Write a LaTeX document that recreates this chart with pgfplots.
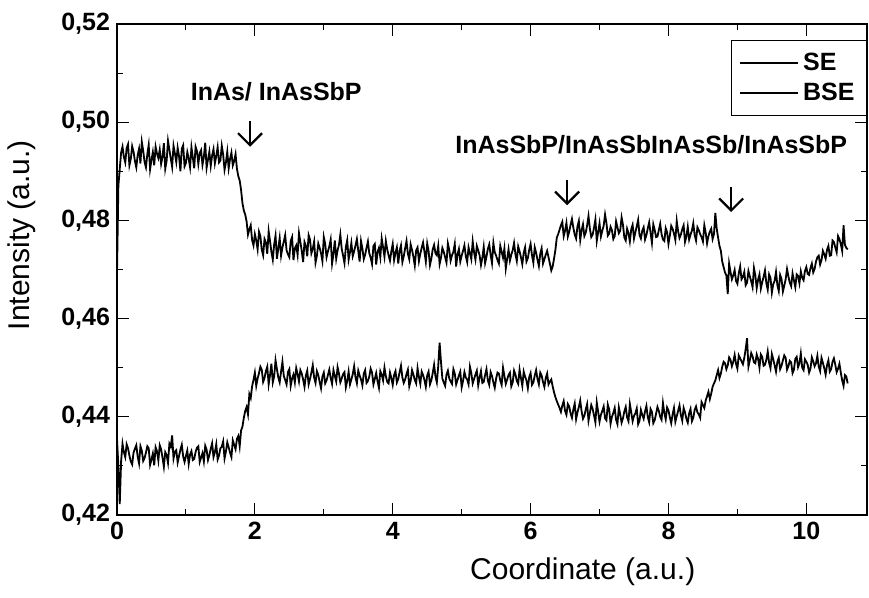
\documentclass[border=0pt]{standalone}
\usepackage{fontspec}
\setmainfont{Liberation Sans}
\usepackage{pgfplots}
\pgfplotsset{compat=1.18}
\usetikzlibrary{arrows.meta}
\begin{document}
\begin{tikzpicture}
\begin{axis}[
  scale only axis,
  width=375pt, height=245.5pt,
  xmin=0, xmax=10.88, ymin=0.42, ymax=0.52,
  xtick={0,2,4,6,8,10}, ytick={0.42,0.44,0.46,0.48,0.50,0.52},
  minor x tick num=1, minor y tick num=1,
  tick align=inside,
  major tick length=6pt, minor tick length=3pt,
  axis line style={line width=0.8pt},
  every tick/.style={black, line width=0.5pt},
  scaled y ticks=false,
  yticklabel style={/pgf/number format/.cd, fixed, fixed zerofill, precision=2, use comma, assume math mode=true},
  xticklabel style={/pgf/number format/assume math mode=true},
  ticklabel style={font=\fontsize{12.5}{14}\selectfont\bfseries},
  xlabel={Coordinate (a.u.)}, ylabel={Intensity (a.u.)},
  label style={font=\fontsize{15}{17}\selectfont},
  xlabel style={at={(axis description cs:0.621,0)}, anchor=center, yshift=-28.5pt},
  ylabel style={at={(axis description cs:-0.1267,0.57)}, anchor=center},
  legend style={at={(1,0.967)}, anchor=north east, draw=black, line width=0.5pt,
    font=\fontsize{12.5}{14}\selectfont\bfseries, row sep=1pt, inner sep=4pt},
  legend cell align=left,
  legend image code/.code={\draw[black,line width=0.9pt] (0pt,0pt) -- (29pt,0pt);},
]
\addplot[black, line width=0.9pt] coordinates {
(0.00,0.4690)(0.02,0.4870)(0.04,0.4905)(0.06,0.4938)(0.08,0.4950)(0.10,0.4929)(0.12,0.4918)(0.14,0.4947)(0.16,0.4955)(0.18,0.4912)
(0.20,0.4925)(0.22,0.4951)(0.24,0.4940)(0.26,0.4921)(0.28,0.4908)(0.30,0.4933)(0.32,0.4946)(0.34,0.4916)(0.36,0.4960)(0.38,0.4942)
(0.40,0.4919)(0.42,0.4908)(0.44,0.4935)(0.46,0.4954)(0.48,0.4904)(0.50,0.4923)(0.52,0.4939)(0.54,0.4912)(0.56,0.4950)(0.58,0.4936)
(0.60,0.4927)(0.62,0.4944)(0.64,0.4915)(0.66,0.4929)(0.68,0.4957)(0.70,0.4905)(0.72,0.4921)(0.74,0.4962)(0.76,0.4944)(0.78,0.4926)
(0.80,0.4909)(0.82,0.4952)(0.84,0.4936)(0.86,0.4919)(0.88,0.4948)(0.90,0.4931)(0.92,0.4900)(0.94,0.4946)(0.96,0.4953)(0.98,0.4910)
(1.00,0.4917)(1.02,0.4939)(1.04,0.4926)(1.06,0.4908)(1.08,0.4949)(1.10,0.4928)(1.12,0.4906)(1.14,0.4950)(1.16,0.4941)(1.18,0.4915)
(1.20,0.4937)(1.22,0.4943)(1.24,0.4913)(1.26,0.4929)(1.28,0.4958)(1.30,0.4907)(1.32,0.4924)(1.34,0.4940)(1.36,0.4911)(1.38,0.4932)
(1.40,0.4945)(1.42,0.4916)(1.44,0.4931)(1.46,0.4949)(1.48,0.4918)(1.50,0.4922)(1.52,0.4952)(1.54,0.4934)(1.56,0.4903)(1.58,0.4918)
(1.60,0.4940)(1.62,0.4906)(1.64,0.4925)(1.66,0.4938)(1.68,0.4912)(1.70,0.4921)(1.72,0.4935)(1.74,0.4905)(1.76,0.4890)(1.78,0.4881)
(1.80,0.4862)(1.82,0.4835)(1.84,0.4820)(1.86,0.4812)(1.88,0.4798)(1.90,0.4771)(1.92,0.4782)(1.94,0.4790)(1.96,0.4760)(1.98,0.4749)
(2.00,0.4772)(2.02,0.4759)(2.04,0.4741)(2.06,0.4777)(2.08,0.4768)(2.10,0.4740)(2.12,0.4729)(2.14,0.4762)(2.16,0.4755)(2.18,0.4732)
(2.20,0.4778)(2.22,0.4758)(2.24,0.4736)(2.26,0.4720)(2.28,0.4751)(2.30,0.4769)(2.32,0.4722)(2.34,0.4743)(2.36,0.4764)(2.38,0.4728)
(2.40,0.4745)(2.42,0.4757)(2.44,0.4770)(2.46,0.4739)(2.48,0.4731)(2.50,0.4725)(2.52,0.4758)(2.54,0.4766)(2.56,0.4719)(2.58,0.4743)
(2.60,0.4749)(2.62,0.4730)(2.64,0.4774)(2.66,0.4756)(2.68,0.4738)(2.70,0.4715)(2.72,0.4756)(2.74,0.4748)(2.76,0.4727)(2.78,0.4770)
(2.80,0.4761)(2.82,0.4733)(2.84,0.4742)(2.86,0.4757)(2.88,0.4714)(2.90,0.4728)(2.92,0.4753)(2.94,0.4744)(2.96,0.4733)(2.98,0.4717)
(3.00,0.4766)(3.02,0.4752)(3.04,0.4725)(3.06,0.4737)(3.08,0.4747)(3.10,0.4761)(3.12,0.4712)(3.14,0.4731)(3.16,0.4759)(3.18,0.4722)
(3.20,0.4739)(3.22,0.4750)(3.24,0.4771)(3.26,0.4742)(3.28,0.4728)(3.30,0.4713)(3.32,0.4746)(3.34,0.4760)(3.36,0.4720)(3.38,0.4735)
(3.40,0.4754)(3.42,0.4727)(3.44,0.4737)(3.46,0.4749)(3.48,0.4762)(3.50,0.4738)(3.52,0.4716)(3.54,0.4758)(3.56,0.4743)(3.58,0.4721)
(3.60,0.4730)(3.62,0.4744)(3.64,0.4757)(3.66,0.4733)(3.68,0.4724)(3.70,0.4711)(3.72,0.4748)(3.74,0.4752)(3.76,0.4710)(3.78,0.4736)
(3.80,0.4744)(3.82,0.4725)(3.84,0.4763)(3.86,0.4745)(3.88,0.4726)(3.90,0.4758)(3.92,0.4741)(3.94,0.4729)(3.96,0.4718)(3.98,0.4737)
(4.00,0.4752)(4.02,0.4719)(4.04,0.4734)(4.06,0.4745)(4.08,0.4712)(4.10,0.4738)(4.12,0.4749)(4.14,0.4715)(4.16,0.4727)(4.18,0.4743)
(4.20,0.4758)(4.22,0.4732)(4.24,0.4721)(4.26,0.4751)(4.28,0.4740)(4.30,0.4726)(4.32,0.4708)(4.34,0.4739)(4.36,0.4745)(4.38,0.4717)
(4.40,0.4732)(4.42,0.4744)(4.44,0.4755)(4.46,0.4736)(4.48,0.4716)(4.50,0.4753)(4.52,0.4738)(4.54,0.4709)(4.56,0.4722)(4.58,0.4741)
(4.60,0.4750)(4.62,0.4733)(4.64,0.4729)(4.66,0.4748)(4.68,0.4711)(4.70,0.4724)(4.72,0.4744)(4.74,0.4736)(4.76,0.4725)(4.78,0.4714)
(4.80,0.4753)(4.82,0.4740)(4.84,0.4718)(4.86,0.4729)(4.88,0.4736)(4.90,0.4752)(4.92,0.4706)(4.94,0.4731)(4.96,0.4742)(4.98,0.4716)
(5.00,0.4728)(5.02,0.4738)(5.04,0.4749)(5.06,0.4727)(5.08,0.4715)(5.10,0.4745)(5.12,0.4733)(5.14,0.4721)(5.16,0.4757)(5.18,0.4735)
(5.20,0.4720)(5.22,0.4748)(5.24,0.4739)(5.26,0.4729)(5.28,0.4709)(5.30,0.4724)(5.32,0.4746)(5.34,0.4713)(5.36,0.4726)(5.38,0.4742)
(5.40,0.4751)(5.42,0.4730)(5.44,0.4713)(5.46,0.4754)(5.48,0.4735)(5.50,0.4728)(5.52,0.4719)(5.54,0.4712)(5.56,0.4748)(5.58,0.4736)
(5.60,0.4724)(5.62,0.4743)(5.64,0.4702)(5.66,0.4722)(5.68,0.4741)(5.70,0.4718)(5.72,0.4730)(5.74,0.4739)(5.76,0.4754)(5.78,0.4731)
(5.80,0.4717)(5.82,0.4747)(5.84,0.4737)(5.86,0.4725)(5.88,0.4711)(5.90,0.4734)(5.92,0.4745)(5.94,0.4716)(5.96,0.4723)(5.98,0.4740)
(6.00,0.4752)(6.02,0.4729)(6.04,0.4714)(6.06,0.4745)(6.08,0.4734)(6.10,0.4720)(6.12,0.4707)(6.14,0.4732)(6.16,0.4743)(6.18,0.4712)
(6.20,0.4721)(6.22,0.4730)(6.24,0.4738)(6.26,0.4725)(6.28,0.4712)(6.30,0.4698)(6.32,0.4706)(6.34,0.4722)(6.36,0.4740)(6.38,0.4765)
(6.40,0.4772)(6.42,0.4781)(6.44,0.4790)(6.46,0.4797)(6.48,0.4768)(6.50,0.4779)(6.52,0.4795)(6.54,0.4767)(6.56,0.4777)(6.58,0.4791)
(6.60,0.4803)(6.62,0.4785)(6.64,0.4771)(6.66,0.4763)(6.68,0.4788)(6.70,0.4799)(6.72,0.4760)(6.74,0.4780)(6.76,0.4792)(6.78,0.4768)
(6.80,0.4775)(6.82,0.4790)(6.84,0.4809)(6.86,0.4783)(6.88,0.4766)(6.90,0.4771)(6.92,0.4785)(6.94,0.4802)(6.96,0.4758)(6.98,0.4776)
(7.00,0.4794)(7.02,0.4767)(7.04,0.4779)(7.06,0.4789)(7.08,0.4812)(7.10,0.4795)(7.12,0.4769)(7.14,0.4773)(7.16,0.4787)(7.18,0.4780)
(7.20,0.4762)(7.22,0.4768)(7.24,0.4798)(7.26,0.4786)(7.28,0.4774)(7.30,0.4779)(7.32,0.4806)(7.34,0.4791)(7.36,0.4765)(7.38,0.4759)
(7.40,0.4783)(7.42,0.4774)(7.44,0.4757)(7.46,0.4782)(7.48,0.4791)(7.50,0.4763)(7.52,0.4776)(7.54,0.4788)(7.56,0.4801)(7.58,0.4770)
(7.60,0.4763)(7.62,0.4779)(7.64,0.4786)(7.66,0.4761)(7.68,0.4770)(7.70,0.4784)(7.72,0.4796)(7.74,0.4775)(7.76,0.4754)(7.78,0.4792)
(7.80,0.4781)(7.82,0.4766)(7.84,0.4767)(7.86,0.4780)(7.88,0.4793)(7.90,0.4772)(7.92,0.4761)(7.94,0.4758)(7.96,0.4784)(7.98,0.4776)
(8.00,0.4752)(8.02,0.4769)(8.04,0.4789)(8.06,0.4783)(8.08,0.4773)(8.10,0.4760)(8.12,0.4799)(8.14,0.4778)(8.16,0.4764)(8.18,0.4771)
(8.20,0.4782)(8.22,0.4790)(8.24,0.4756)(8.26,0.4767)(8.28,0.4787)(8.30,0.4761)(8.32,0.4771)(8.34,0.4779)(8.36,0.4794)(8.38,0.4770)
(8.40,0.4759)(8.42,0.4786)(8.44,0.4780)(8.46,0.4772)(8.48,0.4766)(8.50,0.4757)(8.52,0.4790)(8.54,0.4775)(8.56,0.4753)(8.58,0.4768)
(8.60,0.4777)(8.62,0.4783)(8.64,0.4762)(8.66,0.4772)(8.68,0.4815)(8.70,0.4783)(8.72,0.4765)(8.74,0.4748)(8.76,0.4738)(8.78,0.4716)
(8.80,0.4705)(8.82,0.4694)(8.84,0.4688)(8.86,0.4650)(8.88,0.4712)(8.90,0.4695)(8.92,0.4680)(8.94,0.4688)(8.96,0.4699)(8.98,0.4677)
(9.00,0.4671)(9.02,0.4692)(9.04,0.4706)(9.06,0.4680)(9.08,0.4685)(9.10,0.4695)(9.12,0.4668)(9.14,0.4673)(9.16,0.4697)(9.18,0.4686)
(9.20,0.4676)(9.22,0.4664)(9.24,0.4703)(9.26,0.4688)(9.28,0.4662)(9.30,0.4679)(9.32,0.4690)(9.34,0.4661)(9.36,0.4674)(9.38,0.4685)
(9.40,0.4698)(9.42,0.4672)(9.44,0.4659)(9.46,0.4690)(9.48,0.4683)(9.50,0.4653)(9.52,0.4670)(9.54,0.4677)(9.56,0.4695)(9.58,0.4668)
(9.60,0.4656)(9.62,0.4689)(9.64,0.4681)(9.66,0.4655)(9.68,0.4667)(9.70,0.4680)(9.72,0.4701)(9.74,0.4686)(9.76,0.4673)(9.78,0.4666)
(9.80,0.4692)(9.82,0.4678)(9.84,0.4664)(9.86,0.4690)(9.88,0.4687)(9.90,0.4672)(9.92,0.4696)(9.94,0.4683)(9.96,0.4678)(9.98,0.4697)
(10.00,0.4705)(10.02,0.4691)(10.04,0.4689)(10.06,0.4703)(10.08,0.4712)(10.10,0.4694)(10.12,0.4701)(10.14,0.4716)(10.16,0.4725)(10.18,0.4728)
(10.20,0.4710)(10.22,0.4719)(10.24,0.4738)(10.26,0.4731)(10.28,0.4722)(10.30,0.4740)(10.32,0.4748)(10.34,0.4728)(10.36,0.4729)(10.38,0.4759)
(10.40,0.4756)(10.42,0.4745)(10.44,0.4735)(10.46,0.4768)(10.48,0.4762)(10.50,0.4752)(10.52,0.4738)(10.54,0.4790)(10.56,0.4750)(10.58,0.4744)
(10.60,0.4741)
};
\addlegendentry{SE}
\addplot[black, line width=0.9pt] coordinates {
(0.00,0.4355)(0.02,0.4300)(0.04,0.4222)(0.06,0.4310)(0.08,0.4345)(0.10,0.4328)(0.12,0.4318)(0.14,0.4344)(0.16,0.4336)(0.18,0.4321)
(0.20,0.4309)(0.22,0.4303)(0.24,0.4327)(0.26,0.4335)(0.28,0.4342)(0.30,0.4319)(0.32,0.4305)(0.34,0.4340)(0.36,0.4331)(0.38,0.4310)
(0.40,0.4316)(0.42,0.4327)(0.44,0.4340)(0.46,0.4336)(0.48,0.4302)(0.50,0.4313)(0.52,0.4325)(0.54,0.4301)(0.56,0.4338)(0.58,0.4330)
(0.60,0.4311)(0.62,0.4342)(0.64,0.4334)(0.66,0.4317)(0.68,0.4298)(0.70,0.4328)(0.72,0.4322)(0.74,0.4306)(0.76,0.4345)(0.78,0.4339)
(0.80,0.4362)(0.82,0.4315)(0.84,0.4329)(0.86,0.4332)(0.88,0.4307)(0.90,0.4320)(0.92,0.4333)(0.94,0.4343)(0.96,0.4319)(0.98,0.4308)
(1.00,0.4320)(1.02,0.4331)(1.04,0.4304)(1.06,0.4323)(1.08,0.4330)(1.10,0.4312)(1.12,0.4314)(1.14,0.4328)(1.16,0.4337)(1.18,0.4340)
(1.20,0.4308)(1.22,0.4317)(1.24,0.4326)(1.26,0.4309)(1.28,0.4341)(1.30,0.4333)(1.32,0.4312)(1.34,0.4322)(1.36,0.4335)(1.38,0.4346)
(1.40,0.4318)(1.42,0.4328)(1.44,0.4344)(1.46,0.4313)(1.48,0.4321)(1.50,0.4336)(1.52,0.4339)(1.54,0.4350)(1.56,0.4315)(1.58,0.4329)
(1.60,0.4348)(1.62,0.4338)(1.64,0.4327)(1.66,0.4318)(1.68,0.4352)(1.70,0.4343)(1.72,0.4334)(1.74,0.4355)(1.76,0.4361)(1.78,0.4340)
(1.80,0.4372)(1.82,0.4380)(1.84,0.4398)(1.86,0.4412)(1.88,0.4420)(1.90,0.4405)(1.92,0.4446)(1.94,0.4438)(1.96,0.4462)(1.98,0.4475)
(2.00,0.4490)(2.02,0.4463)(2.04,0.4478)(2.06,0.4489)(2.08,0.4502)(2.10,0.4496)(2.12,0.4471)(2.14,0.4479)(2.16,0.4493)(2.18,0.4502)
(2.20,0.4466)(2.22,0.4485)(2.24,0.4508)(2.26,0.4470)(2.28,0.4482)(2.30,0.4515)(2.32,0.4497)(2.34,0.4480)(2.36,0.4470)(2.38,0.4492)
(2.40,0.4512)(2.42,0.4483)(2.44,0.4475)(2.46,0.4466)(2.48,0.4491)(2.50,0.4497)(2.52,0.4463)(2.54,0.4478)(2.56,0.4486)(2.58,0.4470)
(2.60,0.4499)(2.62,0.4487)(2.64,0.4472)(2.66,0.4495)(2.68,0.4488)(2.70,0.4476)(2.72,0.4461)(2.74,0.4484)(2.76,0.4494)(2.78,0.4466)
(2.80,0.4477)(2.82,0.4490)(2.84,0.4505)(2.86,0.4480)(2.88,0.4469)(2.90,0.4493)(2.92,0.4485)(2.94,0.4471)(2.96,0.4458)(2.98,0.4482)
(3.00,0.4490)(3.02,0.4468)(3.04,0.4474)(3.06,0.4485)(3.08,0.4496)(3.10,0.4479)(3.12,0.4467)(3.14,0.4495)(3.16,0.4483)(3.18,0.4472)
(3.20,0.4501)(3.22,0.4488)(3.24,0.4470)(3.26,0.4478)(3.28,0.4487)(3.30,0.4491)(3.32,0.4460)(3.34,0.4473)(3.36,0.4492)(3.38,0.4466)
(3.40,0.4476)(3.42,0.4487)(3.44,0.4503)(3.46,0.4480)(3.48,0.4468)(3.50,0.4494)(3.52,0.4484)(3.54,0.4476)(3.56,0.4464)(3.58,0.4488)
(3.60,0.4495)(3.62,0.4469)(3.64,0.4473)(3.66,0.4482)(3.68,0.4498)(3.70,0.4490)(3.72,0.4466)(3.74,0.4477)(3.76,0.4489)(3.78,0.4472)
(3.80,0.4459)(3.82,0.4493)(3.84,0.4486)(3.86,0.4474)(3.88,0.4500)(3.90,0.4483)(3.92,0.4471)(3.94,0.4468)(3.96,0.4490)(3.98,0.4479)
(4.00,0.4465)(4.02,0.4485)(4.04,0.4493)(4.06,0.4470)(4.08,0.4477)(4.10,0.4491)(4.12,0.4504)(4.14,0.4480)(4.16,0.4469)(4.18,0.4476)
(4.20,0.4487)(4.22,0.4496)(4.24,0.4462)(4.26,0.4473)(4.28,0.4495)(4.30,0.4486)(4.32,0.4475)(4.34,0.4468)(4.36,0.4499)(4.38,0.4481)
(4.40,0.4467)(4.42,0.4492)(4.44,0.4485)(4.46,0.4475)(4.48,0.4461)(4.50,0.4484)(4.52,0.4492)(4.54,0.4466)(4.56,0.4474)(4.58,0.4489)
(4.60,0.4506)(4.62,0.4482)(4.64,0.4470)(4.66,0.4503)(4.68,0.4551)(4.70,0.4512)(4.72,0.4478)(4.74,0.4470)(4.76,0.4463)(4.78,0.4486)
(4.80,0.4494)(4.82,0.4478)(4.84,0.4472)(4.86,0.4467)(4.88,0.4497)(4.90,0.4488)(4.92,0.4466)(4.94,0.4475)(4.96,0.4484)(4.98,0.4492)
(5.00,0.4460)(5.02,0.4473)(5.04,0.4491)(5.06,0.4480)(5.08,0.4476)(5.10,0.4466)(5.12,0.4502)(5.14,0.4489)(5.16,0.4468)(5.18,0.4477)
(5.20,0.4486)(5.22,0.4494)(5.24,0.4464)(5.26,0.4480)(5.28,0.4493)(5.30,0.4469)(5.32,0.4471)(5.34,0.4485)(5.36,0.4497)(5.38,0.4474)
(5.40,0.4465)(5.42,0.4491)(5.44,0.4483)(5.46,0.4470)(5.48,0.4459)(5.50,0.4478)(5.52,0.4490)(5.54,0.4488)(5.56,0.4474)(5.58,0.4465)
(5.60,0.4500)(5.62,0.4483)(5.64,0.4467)(5.66,0.4476)(5.68,0.4485)(5.70,0.4490)(5.72,0.4462)(5.74,0.4470)(5.76,0.4494)(5.78,0.4486)
(5.80,0.4473)(5.82,0.4467)(5.84,0.4496)(5.86,0.4479)(5.88,0.4463)(5.90,0.4492)(5.92,0.4482)(5.94,0.4474)(5.96,0.4458)(5.98,0.4481)
(6.00,0.4489)(6.02,0.4465)(6.04,0.4470)(6.06,0.4484)(6.08,0.4495)(6.10,0.4477)(6.12,0.4466)(6.14,0.4490)(6.16,0.4484)(6.18,0.4471)
(6.20,0.4461)(6.22,0.4479)(6.24,0.4488)(6.26,0.4466)(6.28,0.4472)(6.30,0.4476)(6.32,0.4462)(6.34,0.4450)(6.36,0.4440)(6.38,0.4432)
(6.40,0.4425)(6.42,0.4418)(6.44,0.4410)(6.46,0.4423)(6.48,0.4432)(6.50,0.4412)(6.52,0.4404)(6.54,0.4426)(6.56,0.4421)(6.58,0.4407)
(6.60,0.4398)(6.62,0.4415)(6.64,0.4427)(6.66,0.4395)(6.68,0.4409)(6.70,0.4420)(6.72,0.4433)(6.74,0.4411)(6.76,0.4396)(6.78,0.4402)
(6.80,0.4415)(6.82,0.4426)(6.84,0.4392)(6.86,0.4408)(6.88,0.4424)(6.90,0.4416)(6.92,0.4403)(6.94,0.4389)(6.96,0.4429)(6.98,0.4410)
(7.00,0.4390)(7.02,0.4404)(7.04,0.4412)(7.06,0.4421)(7.08,0.4397)(7.10,0.4393)(7.12,0.4425)(7.14,0.4415)(7.16,0.4386)(7.18,0.4400)
(7.20,0.4408)(7.22,0.4418)(7.24,0.4394)(7.26,0.4385)(7.28,0.4419)(7.30,0.4405)(7.32,0.4388)(7.34,0.4397)(7.36,0.4411)(7.38,0.4420)
(7.40,0.4399)(7.42,0.4391)(7.44,0.4426)(7.46,0.4409)(7.48,0.4391)(7.50,0.4402)(7.52,0.4407)(7.54,0.4417)(7.56,0.4385)(7.58,0.4392)
(7.60,0.4414)(7.62,0.4404)(7.64,0.4396)(7.66,0.4411)(7.68,0.4422)(7.70,0.4399)(7.72,0.4389)(7.74,0.4416)(7.76,0.4410)(7.78,0.4387)
(7.80,0.4393)(7.82,0.4406)(7.84,0.4420)(7.86,0.4412)(7.88,0.4400)(7.90,0.4394)(7.92,0.4428)(7.94,0.4408)(7.96,0.4395)(7.98,0.4419)
(8.00,0.4413)(8.02,0.4399)(8.04,0.4387)(8.06,0.4405)(8.08,0.4418)(8.10,0.4390)(8.12,0.4401)(8.14,0.4412)(8.16,0.4423)(8.18,0.4403)
(8.20,0.4392)(8.22,0.4418)(8.24,0.4409)(8.26,0.4396)(8.28,0.4388)(8.30,0.4407)(8.32,0.4416)(8.34,0.4391)(8.36,0.4398)(8.38,0.4414)
(8.40,0.4421)(8.42,0.4409)(8.44,0.4405)(8.46,0.4398)(8.48,0.4430)(8.50,0.4424)(8.52,0.4418)(8.54,0.4433)(8.56,0.4442)(8.58,0.4451)
(8.60,0.4436)(8.62,0.4447)(8.64,0.4461)(8.66,0.4468)(8.68,0.4474)(8.70,0.4485)(8.72,0.4495)(8.74,0.4479)(8.76,0.4488)(8.78,0.4502)
(8.80,0.4512)(8.82,0.4509)(8.84,0.4497)(8.86,0.4505)(8.88,0.4521)(8.90,0.4516)(8.92,0.4503)(8.94,0.4512)(8.96,0.4526)(8.98,0.4508)
(9.00,0.4498)(9.02,0.4525)(9.04,0.4519)(9.06,0.4513)(9.08,0.4507)(9.10,0.4520)(9.12,0.4538)(9.14,0.4560)(9.16,0.4502)(9.18,0.4515)
(9.20,0.4530)(9.22,0.4523)(9.24,0.4511)(9.26,0.4509)(9.28,0.4527)(9.30,0.4518)(9.32,0.4500)(9.34,0.4527)(9.36,0.4522)(9.38,0.4504)
(9.40,0.4506)(9.42,0.4516)(9.44,0.4533)(9.46,0.4510)(9.48,0.4499)(9.50,0.4528)(9.52,0.4517)(9.54,0.4505)(9.56,0.4492)(9.58,0.4512)
(9.60,0.4520)(9.62,0.4497)(9.64,0.4504)(9.66,0.4515)(9.68,0.4525)(9.70,0.4520)(9.72,0.4496)(9.74,0.4503)(9.76,0.4514)(9.78,0.4511)
(9.80,0.4489)(9.82,0.4496)(9.84,0.4518)(9.86,0.4522)(9.88,0.4501)(9.90,0.4509)(9.92,0.4529)(9.94,0.4500)(9.96,0.4495)(9.98,0.4517)
(10.00,0.4512)(10.02,0.4506)(10.04,0.4490)(10.06,0.4498)(10.08,0.4521)(10.10,0.4513)(10.12,0.4503)(10.14,0.4509)(10.16,0.4524)(10.18,0.4502)
(10.20,0.4493)(10.22,0.4520)(10.24,0.4510)(10.26,0.4499)(10.28,0.4486)(10.30,0.4505)(10.32,0.4515)(10.34,0.4492)(10.36,0.4497)(10.38,0.4512)
(10.40,0.4519)(10.42,0.4506)(10.44,0.4491)(10.46,0.4498)(10.48,0.4508)(10.50,0.4490)(10.52,0.4474)(10.54,0.4463)(10.56,0.4485)(10.58,0.4482)
(10.60,0.4468)
};
\addlegendentry{BSE}
\node[font=\fontsize{12.5}{14}\selectfont\bfseries] at (axis cs:2.31,0.5062) {InAs/ InAsSbP};
\node[font=\fontsize{12.5}{14}\selectfont\bfseries] at (axis cs:7.75,0.4954) {InAsSbP/InAsSbInAsSb/InAsSbP};
\draw[line width=1.1pt, -{Straight Barb[length=6pt,width=12pt]}] (axis cs:1.93,0.5002) -- (axis cs:1.93,0.4950);
\draw[line width=1.1pt, -{Straight Barb[length=6pt,width=12pt]}] (axis cs:6.53,0.4882) -- (axis cs:6.53,0.4831);
\draw[line width=1.1pt, -{Straight Barb[length=6pt,width=12pt]}] (axis cs:8.91,0.4868) -- (axis cs:8.91,0.4817);
\coordinate (ll) at (rel axis cs:0,0);
\coordinate (ur) at (rel axis cs:1,1);
\end{axis}
\pgfresetboundingbox
\path ([shift={(-58.5pt,-41.5pt)}]ll) rectangle ([shift={(1pt,12pt)}]ur);
\end{tikzpicture}
\end{document}
